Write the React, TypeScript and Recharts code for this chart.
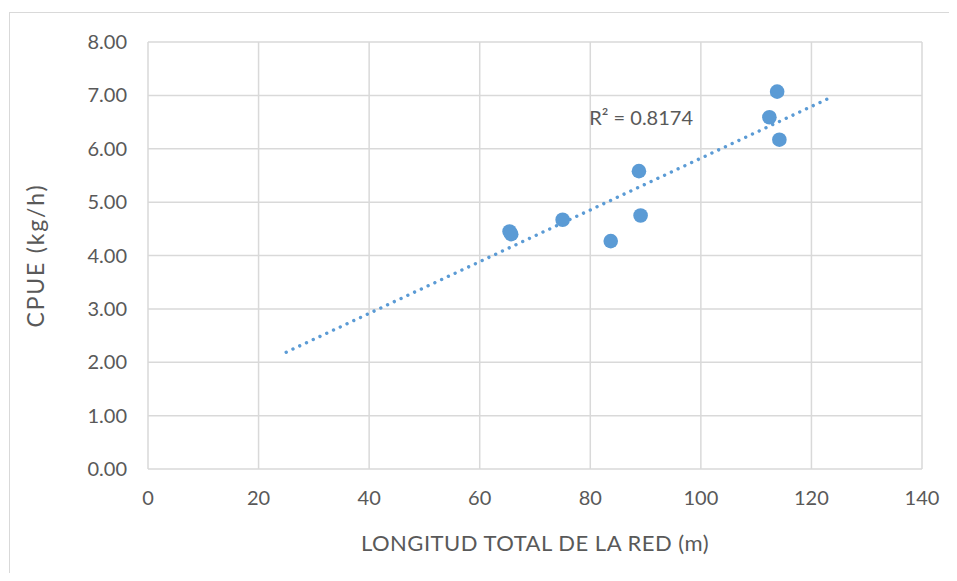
import React from "react";
import {
  ScatterChart,
  Scatter,
  XAxis,
  YAxis,
  CartesianGrid,
  ReferenceDot,
} from "recharts";

// longitud total de la red (m) vs CPUE (kg/h)
const lengths = [65.4, 65.7, 75.0, 83.7, 88.8, 89.1, 113.8, 112.4, 114.2];
const cpue = [4.45, 4.4, 4.67, 4.27, 5.58, 4.75, 7.07, 6.59, 6.17];
const trendRange = [25, 123];
const xTicks = [0, 20, 40, 60, 80, 100, 120, 140];
const yTicks = [0, 1, 2, 3, 4, 5, 6, 7, 8];
const r2Text = "R² = 0.8174";

const points = lengths.map((x, i) => ({ x, y: cpue[i] }));

// linear least squares, like excel's trendline
const n = lengths.length;
const mx = lengths.reduce((a, b) => a + b, 0) / n;
const my = cpue.reduce((a, b) => a + b, 0) / n;
let sxy = 0;
let sxx = 0;
lengths.forEach((x, i) => {
  sxy += (x - mx) * (cpue[i] - my);
  sxx += (x - mx) * (x - mx);
});
const slope = sxy / sxx;
const intercept = my - slope * mx;
const trend = trendRange.map((x) => ({ x, y: intercept + slope * x }));

const BLUE = "#5b9bd5";
const TEXT = "#595959";
const GRID = "#d9d9d9";
const FONT = "Lato, 'Open Sans', sans-serif";

export default function App() {
  return (
    <div
      style={{
        position: "relative",
        width: 949,
        height: 565,
        overflow: "hidden",
        fontFamily: FONT,
      }}
    >
      <div
        style={{
          position: "absolute",
          left: 1,
          top: 4,
          width: 947,
          height: 620,
          border: `1px solid ${GRID}`,
          pointerEvents: "none",
        }}
      />
      <ScatterChart
        width={941}
        height={565}
        margin={{ top: 34, right: 27, left: 0, bottom: 0 }}
      >
        <CartesianGrid stroke={GRID} strokeWidth={1.5} />
        <XAxis
          type="number"
          dataKey="x"
          domain={[0, 140]}
          ticks={xTicks}
          height={104}
          axisLine={false}
          tickLine={false}
          tickSize={0}
          tickMargin={22}
          tick={{ fill: TEXT, fontSize: 20, fontFamily: FONT }}
          label={{
            value: "LONGITUD  TOTAL  DE LA RED (m)",
            position: "insideBottom",
            offset: 22,
            fill: TEXT,
            fontSize: 22,
            fontFamily: FONT,
            letterSpacing: 0.5,
          }}
        />
        <YAxis
          type="number"
          dataKey="y"
          domain={[0, 8]}
          ticks={yTicks}
          width={140}
          axisLine={false}
          tickLine={false}
          tickSize={0}
          tickMargin={21}
          tickFormatter={(v: number) => v.toFixed(2)}
          tick={{ fill: TEXT, fontSize: 20, fontFamily: FONT }}
          label={{
            value: "CPUE (kg/h)",
            content: (props: any) => {
              const vb = props.viewBox || {};
              const cy = (vb.y || 0) + (vb.height || 0) / 2;
              return (
                <text
                  x={27}
                  y={cy}
                  transform={`rotate(-90, 27, ${cy})`}
                  textAnchor="middle"
                  dominantBaseline="central"
                  fill={TEXT}
                  fontSize={23}
                  fontFamily={FONT}
                  letterSpacing={1.8}
                >
                  CPUE (kg/h)
                </text>
              );
            },
          }}
        />
        <Scatter
          data={trend}
          isAnimationActive={false}
          line={{
            stroke: BLUE,
            strokeWidth: 3.4,
            strokeDasharray: "0.01 7.45",
            strokeLinecap: "round",
          }}
          shape={() => <g />}
        />
        <Scatter
          data={points}
          isAnimationActive={false}
          shape={(p: any) => <circle cx={p.cx} cy={p.cy} r={7.3} fill={BLUE} />}
        />
        <ReferenceDot
          x={89.2}
          y={6.58}
          r={0}
          fill="none"
          stroke="none"
          label={{
            value: r2Text,
            position: "center",
            fill: TEXT,
            fontSize: 20,
            fontFamily: FONT,
          }}
        />
      </ScatterChart>
    </div>
  );
}
